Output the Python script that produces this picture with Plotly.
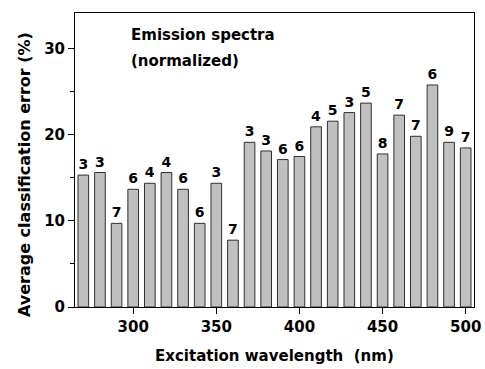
import plotly.graph_objects as go

wavelengths = [270, 280, 290, 300, 310, 320, 330, 340, 350, 360, 370, 380,
               390, 400, 410, 420, 430, 440, 450, 460, 470, 480, 490, 500]
errors = [15.3, 15.6, 9.7, 13.65, 14.35, 15.6, 13.65, 9.7, 14.35, 7.75, 19.1, 18.1,
          17.1, 17.45, 20.9, 21.55, 22.55, 23.65, 17.75, 22.25, 19.8, 25.75, 19.1, 18.45]
labels = ["3", "3", "7", "6", "4", "4", "6", "6", "3", "7", "3", "3",
          "6", "6", "4", "5", "3", "5", "8", "7", "7", "6", "9", "7"]
tick_values = [300, 350, 400, 450, 500]
ytick_values = [0, 10, 20, 30]
yminor_values = [5, 15, 25]

FONT = "DejaVu Sans, sans-serif"

fig = go.Figure()
fig.add_trace(go.Bar(
    x=wavelengths, y=errors, width=6.4,
    marker=dict(color="#c0c0c0", line=dict(color="#303030", width=1)),
    text=labels, textposition="outside", cliponaxis=False,
    textfont=dict(family=FONT, size=14, color="black", weight="bold"),
))

fig.update_layout(
    width=485, height=369,
    margin=dict(l=75, r=11, t=13, b=62),
    paper_bgcolor="white", plot_bgcolor="white",
    showlegend=False,
    font=dict(family=FONT, color="black"),
)
fig.update_xaxes(
    range=[265, 505], tickvals=tick_values, automargin=False,
    ticks="outside", ticklen=6, tickwidth=1, tickcolor="black",
    showline=True, linecolor="black", linewidth=1, mirror=True,
    showgrid=False, zeroline=False,
    tickfont=dict(family=FONT, size=15, weight="bold"),
)
fig.update_yaxes(
    range=[0, 34.1], tickvals=ytick_values, automargin=False,
    ticks="outside", ticklen=6, tickwidth=1, tickcolor="black",
    minor=dict(tickvals=yminor_values, ticks="outside", ticklen=4, tickcolor="black"),
    showline=True, linecolor="black", linewidth=1, mirror=True,
    showgrid=False, zeroline=False,
    tickfont=dict(family=FONT, size=15, weight="bold"),
)
fig.add_annotation(
    x=-0.128, y=0.452, xref="paper", yref="paper", xanchor="center", yanchor="middle",
    text="Average classification error (%)", textangle=-90, showarrow=False,
    font=dict(family=FONT, size=16, weight="bold", color="black"),
)
fig.add_annotation(
    x=0.5, y=-0.167, xref="paper", yref="paper", xanchor="center", yanchor="middle",
    text="Excitation wavelength\u00a0\u00a0(nm)", showarrow=False,
    font=dict(family=FONT, size=15, weight="bold", color="black"),
)
for txt, yp in [("Emission spectra", 0.925), ("(normalized)", 0.838)]:
    fig.add_annotation(
        x=0.135, y=yp, xref="paper", yref="paper", xanchor="left", yanchor="middle",
        text=txt, showarrow=False, align="left",
        font=dict(family=FONT, size=15, weight="bold", color="black"),
    )

fig.write_html("out.html")
